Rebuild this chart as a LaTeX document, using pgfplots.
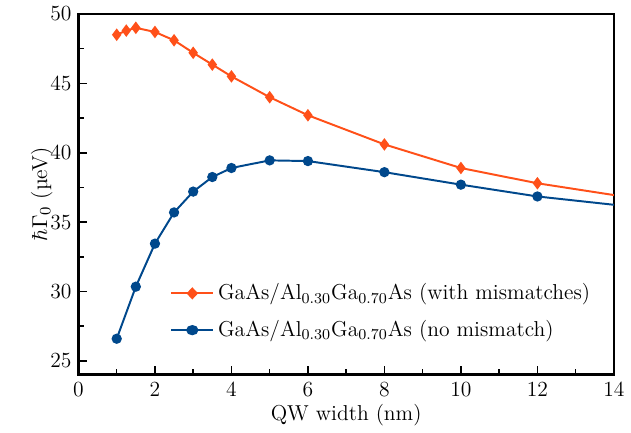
\documentclass[border=0pt]{standalone}
\usepackage{pgfplots}
\pgfplotsset{compat=1.18}
\definecolor{mismatch}{RGB}{255,80,25}
\definecolor{nomis}{RGB}{0,72,140}
\begin{document}
\begin{tikzpicture}[font=\fontsize{11}{13}\selectfont]
\begin{axis}[
    name=main,
    scale only axis,
    width=273pt, height=184pt,
    xmin=0, xmax=14, ymin=24, ymax=50,
    xtick={0,2,...,14}, ytick={25,30,...,50},
    minor xtick={1,3,...,13}, minor ytick={27.5,32.5,...,47.5},
    tick pos=left, tick align=inside,
    major tick length=4.5pt, minor tick length=3pt,
    tick style={black, line width=0.8pt},
    axis line style={line width=1.4pt},
    /pgf/number format/assume math mode=true,
    ticklabel style={font=\fontsize{11}{13}\selectfont},
    label style={font=\fontsize{11}{13}\selectfont},
    xlabel={QW width (nm)},
    ylabel={$\hbar\Gamma_0$ (µeV)},
    xlabel style={yshift=3pt},
    ylabel style={yshift=-8pt},
    legend style={draw=none, fill=none, at={(0.16,0.275)}, anchor=north west,
        row sep=5pt, font=\fontsize{11}{13}\selectfont},
    legend cell align=left,
    legend image post style={xscale=1.25},
]
\addplot[mismatch, line width=1pt, mark=diamond*, mark size=2.4pt] coordinates {
    (1,48.5) (1.25,48.8) (1.5,49.0) (2,48.7) (2.5,48.1) (3,47.2) (3.5,46.35)
    (4,45.5) (5,44.0) (6,42.7) (8,40.6) (10,38.9) (12,37.8)
};
\addlegendentry{GaAs/Al\textsubscript{0.30}Ga\textsubscript{0.70}As (with mismatches)}
\addplot[nomis, line width=1pt, mark=*, mark size=2.1pt] coordinates {
    (1,26.6) (1.5,30.35) (2,33.45) (2.5,35.7) (3,37.2) (3.5,38.25) (4,38.9)
    (5,39.45) (6,39.4) (8,38.6) (10,37.7) (12,36.85)
};
\addlegendentry{GaAs/Al\textsubscript{0.30}Ga\textsubscript{0.70}As (no mismatch)}
\addplot[mismatch, line width=1pt, forget plot] coordinates {(12,37.8) (14,36.95)};
\addplot[nomis, line width=1pt, forget plot] coordinates {(12,36.85) (14,36.25)};
\end{axis}
\path ([xshift=-40pt]main.south west);
\end{tikzpicture}
\end{document}
